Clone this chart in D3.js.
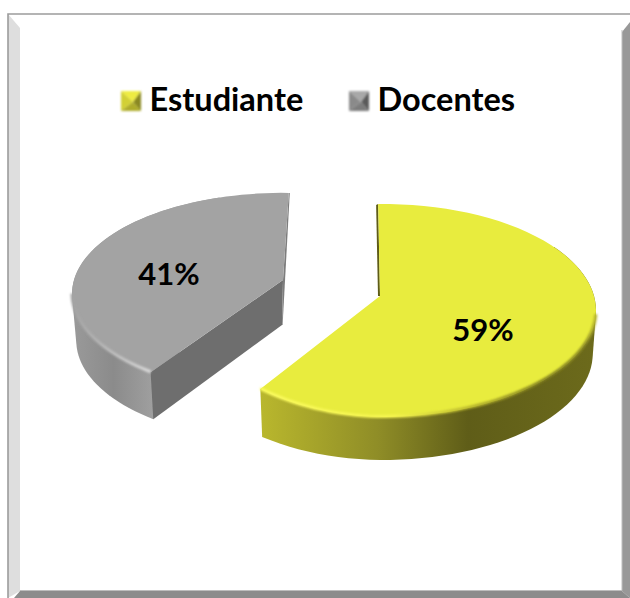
<!DOCTYPE html>
<html><head><meta charset="utf-8">
<style>html,body{margin:0;padding:0;background:#fff}svg{display:block}text{font-family:Lato,sans-serif;font-weight:700;fill:#000}</style>
<script src="https://cdn.jsdelivr.net/npm/d3@7"></script></head><body>
<script>
const categories = ["Estudiante", "Docentes"];
const values = [59, 41];
const percentLabels = ["59%", "41%"];

const W = 630, H = 598;
const svg = d3.select("body").append("svg").attr("width", W).attr("height", H);
const defs = svg.append("defs");
defs.append("filter").attr("id","soft").attr("x","-5%").attr("y","-5%").attr("width","110%").attr("height","110%")
  .append("feGaussianBlur").attr("stdDeviation",1.1);
defs.append("filter").attr("id","iconSoft").attr("x","-15%").attr("y","-15%").attr("width","130%").attr("height","130%")
  .append("feGaussianBlur").attr("stdDeviation",1);
function grad(id, x1, x2, stops){
  const g = defs.append("linearGradient").attr("id",id).attr("gradientUnits","userSpaceOnUse")
    .attr("x1",x1).attr("x2",x2).attr("y1",0).attr("y2",0);
  stops.forEach(s=>g.append("stop").attr("offset",s[0]).attr("stop-color",s[1]));
}
grad("ySide",261,595,[[0,"#b9b72d"],[.35,"#8f8d27"],[.62,"#5f5d18"],[1,"#6c6a1b"]]);
grad("yRim",261,595,[[0,"#fbfb60"],[.4,"#f6f650"],[.62,"#b8b62c"],[.85,"#7f7d20"],[.97,"#8f8d25"],[1,"#b8b62c"]]);
grad("gSide",72,155,[[0,"#9a9a9a"],[.5,"#8b8b8b"],[1,"#a0a0a0"]]);
grad("gRim",72,155,[[0,"#a3a3a3"],[.5,"#bdbdbd"],[1,"#dcdcdc"]]);

// Frame with bevels
const frame = svg.append("g");
const poly = (pts,fill)=>frame.append("polygon").attr("points",pts.join(" ")).attr("fill",fill);
poly([[8,14],[630,14],[622,30],[622,598],[20,598],[20,28]],"#fff");
poly([[8,14],[20,28],[20,591],[8,598]],"#dedede");
poly([[622,32],[630,22],[630,598],[622,591]],"#989898");
poly([[20,591],[622,591],[630,598],[14,598]],"#8c8c8c");
frame.append("path").attr("d","M8,598V14H630").attr("fill","none").attr("stroke","#9c9c9c").attr("stroke-width",1.6);
frame.append("path").attr("d","M20,590.5H622V30").attr("fill","none").attr("stroke","#bdbdbd").attr("stroke-width",1);

// 3D projection of a disc: perspective in depth direction, with a slight droop on the left side
const k = 0.136;
function projector(cx, cy, rx, ry, depth, shrink, ax, ay, tilt, tiltLow){
  return function(theta, r, low){
    if(r===0) return [ax + (low?-1:0), ay + (low?depth-2:0)];
    const u = Math.sin(theta)*r, v = -Math.cos(theta)*r, w = 1/(1-k*v), f = low?shrink:1;
    const dx = rx*u*w;
    const t = low?tiltLow:tilt;
    const droop = dx<0 ? t*dx*dx/rx : 0;
    return [cx + dx*f, cy + ry*v*w - droop + (low?depth:0)];
  };
}
const line = d3.line();
const deg = Math.PI/180;
const pie = d3.pie().sort(null).value(d=>d)(values);
const rim = (p,a,b,low)=>d3.range(0,61).map(i=>p(a+(b-a)*i/60,1,low));

const sliceCfg = [
 {p:projector(383,296,211,104.5,43,.985,380,296,.118,.05),rot:-1.5,top:"#e8ec3e",side:"url(#ySide)",rimc:"url(#yRim)",sideTo:60,edge:"#5e5c17"},
 {p:projector(283,280,209,99,47,.98,283,280,0,0),rot:1.8,top:"#a3a3a3",side:"url(#gSide)",rimc:"url(#gRim)",sideTo:340,cut:"#6e6e6e",edge:"#7d7d7d"}
];
const chart = svg.append("g");
[1,0].forEach(i=>{
  const d = pie[i], c = sliceCfg[i], p = c.p;
  const a = d.startAngle + c.rot*deg, b = d.endAngle + c.rot*deg;
  const apex = p(0,0,false), apexLow = p(0,0,true);
  const [f,t] = i===0 ? [c.sideTo*deg,b] : [a,c.sideTo*deg];
  const hull = d3.polygonHull(rim(p,f,t,false).concat(rim(p,f,t,true)));
  chart.append("path").attr("d",line(hull)+"Z").attr("fill",c.side);
  if(i===0){
    const q=p(a,1,false);
    chart.append("path").attr("d",line([apex,q,[q[0]-2,q[1]+1],[apex[0]-2,apex[1]]])+"Z").attr("fill",c.edge);
  } else {
    const q=p(a,1,false), ql=p(a,1,true);
    chart.append("path").attr("d",line([apex,q,ql,apexLow])+"Z").attr("fill",c.cut);
    const e=p(b,1,false);
    chart.append("path").attr("d",line([e,[e[0]+1,e[1]],[apexLow[0]+.6,apexLow[1]],apexLow,apex])+"Z").attr("fill",c.edge);
  }
  chart.append("path").attr("d",line([apex].concat(rim(p,a,b,false)))+"Z").attr("fill",c.top);
  const hlFrom = i===0?100*deg:a, hlTo = i===0?b:262*deg;
  chart.append("path").attr("d",line(rim(p,hlFrom,hlTo,false).map(q=>[q[0],q[1]-.5])))
    .attr("fill","none").attr("stroke",c.rimc).attr("stroke-width",3).attr("filter","url(#soft)");
});

// Data labels
const labelPos = [[483,333],[169,277]];
percentLabels.forEach((t,i)=>svg.append("text").attr("x",labelPos[i][0]).attr("y",labelPos[i][1])
  .attr("text-anchor","middle").attr("dominant-baseline","middle").attr("font-size",31).text(t));

// Legend
const iconColors = [["#eeec42","#d2d034","#8a8820","#aeac2a"],["#a8a8a8","#8a8a8a","#5a5a5a","#7c7c7c"]];
const legendX = d3.scalePoint().domain(categories).range([121,349]);
categories.forEach((name,i)=>{
  const x = legendX(name), y = 91, s = 20, g = svg.append("g").attr("transform",`translate(${x},${y})`).attr("filter","url(#iconSoft)");
  const corners=[[0,0],[s,0],[s,s],[0,s]], mid=[s/2+2,s/2+1];
  [[0,1],[3,0],[1,2],[2,3]].forEach((e,j)=>g.append("polygon")
     .attr("points",[corners[e[0]],corners[e[1]],mid].join(" ")).attr("fill",iconColors[i][j]));
  svg.append("text").attr("x",x+28.5).attr("y",111).attr("font-size",32.5).text(name);
});
</script></body></html>
